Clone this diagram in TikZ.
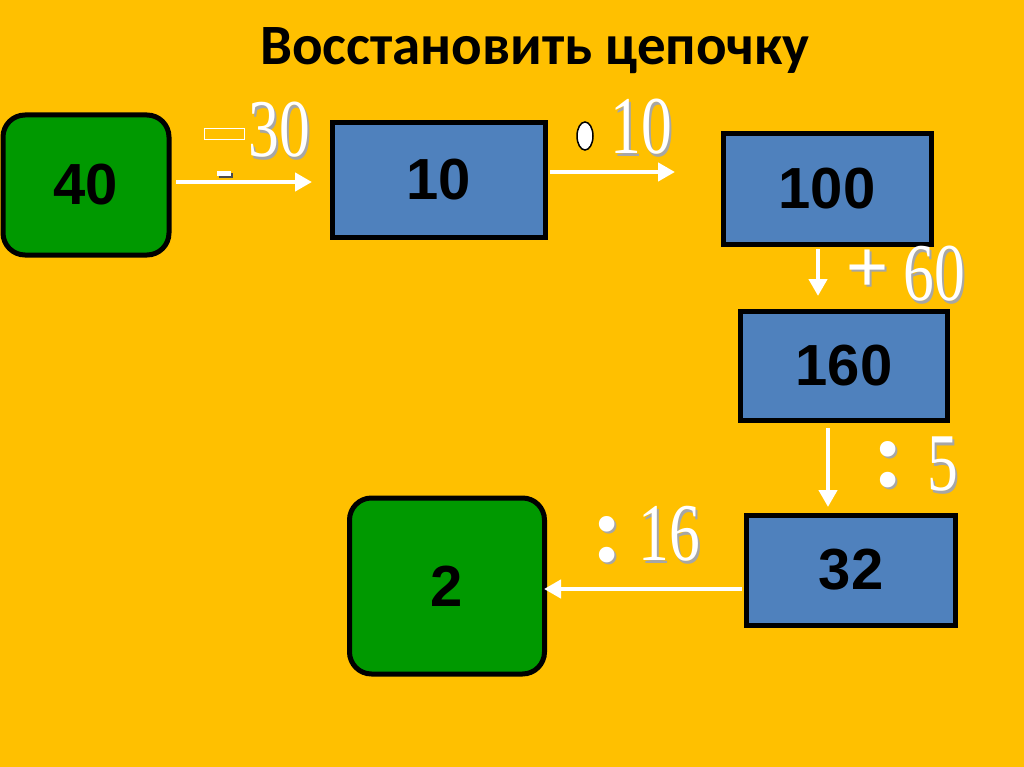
\documentclass[tikz,border=0pt]{standalone}
\usepackage{fontspec}
\setmainfont{Liberation Sans}
\newfontfamily\titlefont{Carlito}
\newfontfamily\numfont{Liberation Serif}
\usetikzlibrary{arrows.meta,shapes.geometric}
\definecolor{bg}{HTML}{FFC000}
\definecolor{boxblue}{HTML}{4F81BD}
\definecolor{boxgreen}{HTML}{009900}
\definecolor{shadowgray}{HTML}{A6A6A6}
% shadowed number (one text run: shadow box + main)
\newcommand\shadnum[1]{\scalebox{0.75}[1]{%
  \makebox[0pt][l]{\hspace{3pt}\raisebox{-3pt}{\color{shadowgray}#1}}%
  #1}}
\newcommand\shadop[1]{%
  \makebox[0pt][l]{\hspace{2pt}\raisebox{-2pt}{\color{shadowgray}#1}}#1}
\tikzset{
  bluebox/.style={draw=black, line width=5pt, fill=boxblue, inner sep=0pt,
    font=\fontsize{58}{62}\selectfont\bfseries},
  greenbox/.style={draw=black, line width=5pt, fill=boxgreen, rounded corners=22pt, inner sep=0pt,
    font=\fontsize{58}{62}\selectfont\bfseries},
  flow/.style={draw=white, line width=4.5pt, -{Triangle[length=17pt,width=18pt]}},
  oplabel/.style={text=white, inner sep=0pt, font=\fontsize{72}{74}\selectfont},
  colonlabel/.style={text=white, inner sep=0pt, font=\numfont\bfseries\fontsize{96}{96}\selectfont},
  numlabel/.style={text=white, inner sep=0pt, font=\numfont\fontsize{82}{82}\selectfont}
}
\begin{document}
\begin{tikzpicture}[x=1pt,y=-1pt]
\useasboundingbox (0,0) rectangle (1024,767);
\fill[bg] (0,0) rectangle (1024,767);

% title
\node (title) at (535,51) {\titlefont\bfseries\fontsize{57}{62}\selectfont Восстановить цепочку};

% boxes
\node[greenbox, minimum width=166pt, minimum height=140pt] (n40) at (86,185) {40};
\node[bluebox, minimum width=213pt, minimum height=115pt] (n10) at (439,180) {10};
\node[bluebox, minimum width=208pt, minimum height=111pt] (n100) at (827,189) {100};
\node[bluebox, minimum width=207pt, minimum height=109pt] (n160) at (844,366) {160};
\node[bluebox, minimum width=209pt, minimum height=110pt] (n32) at (851,570) {32};
\node[greenbox, minimum width=195pt, minimum height=176pt] (n2) at (447,586) {2};

% connector end points
\coordinate (a1s) at (176,182); \coordinate (a1e) at (312,182);
\coordinate (a2s) at (550,172); \coordinate (a2e) at (675,172);
\coordinate (a3s) at (818,249); \coordinate (a3e) at (818,296);
\coordinate (a4s) at (828,428); \coordinate (a4e) at (828,507);
\coordinate (a5s) at (742,589); \coordinate (a5e) at (544,589);

\draw[flow] (a1s) -- (a1e);
\draw[flow] (a2s) -- (a2e);
\draw[flow] (a3s) -- (a3e);
\draw[flow] (a4s) -- (a4e);
\draw[flow] (a5s) -- (a5e);

% operators
\node[draw=white, line width=1pt, minimum width=40pt, minimum height=11pt, inner sep=0pt] (opminus) at (224,134) {};
\fill[black!70] (219,173) rectangle (233,178);
\fill[white] (217,171) rectangle (231,176);
\node[draw=black, fill=white, line width=1.5pt, ellipse, minimum width=16pt, minimum height=28pt, inner sep=0pt] (opdot) at (585,136) {};
\node[oplabel] (opplus) at (868,272) {\shadop{+}};
\node[colonlabel] (opdiv1) at (888,466) {\shadop{:}};
\node[colonlabel] (opdiv2) at (607,541) {\shadop{:}};

% numbers with shadow
\node[numlabel] (l30) at (279,131) {\shadnum{30}};
\node[numlabel] (l10) at (641,128) {\shadnum{10}};
\node[numlabel] (l60) at (934,275) {\shadnum{60}};
\node[numlabel] (l5) at (943,466) {\shadnum{5}};
\node[numlabel] (l16) at (669,535) {\shadnum{16}};
\end{tikzpicture}
\end{document}
